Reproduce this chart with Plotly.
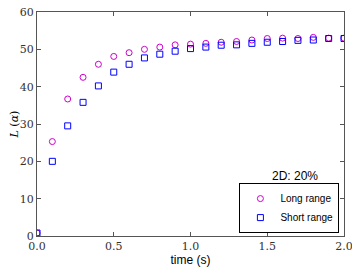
import plotly.graph_objects as go

time_s = [0.0, 0.1, 0.2, 0.3, 0.4, 0.5, 0.6, 0.7, 0.8, 0.9, 1.0,
          1.1, 1.2, 1.3, 1.4, 1.5, 1.6, 1.7, 1.8, 1.9, 2.0]
long_range = [0.8, 25.3, 36.7, 42.5, 46.0, 48.1, 49.1, 50.0, 50.6, 51.2, 51.4,
              51.6, 51.9, 52.1, 52.5, 52.9, 53.0, 52.9, 53.2, 53.0, 53.0]
short_range = [0.8, 20.0, 29.5, 35.8, 40.2, 43.9, 46.0, 47.7, 48.7, 49.5, 50.2,
               50.6, 51.1, 51.2, 51.6, 51.9, 52.1, 52.4, 52.5, 52.9, 52.9]
x_ticks = [0.0, 0.5, 1.0, 1.5, 2.0]
x_tick_text = ["0.0", "0.5", "1.0", "1.5", "2.0"]
y_ticks = [0, 10, 20, 30, 40, 50, 60]

fig = go.Figure()
fig.add_trace(go.Scatter(
    x=time_s, y=long_range, mode="markers", name="Long range",
    marker=dict(symbol="circle-open", size=6, color="#CC00CC", line=dict(width=1, color="#CC00CC")),
))
fig.add_trace(go.Scatter(
    x=time_s, y=short_range, mode="markers", name="Short range",
    marker=dict(symbol="square-open", size=6, color="#0000FF", line=dict(width=1, color="#0000FF")),
))

axis_common = dict(
    showline=True, linecolor="#555555", linewidth=1, mirror="ticks",
    ticks="inside", ticklen=4, tickcolor="#555555", showgrid=False, zeroline=False,
    automargin=False, ticklabeloverflow="allow",
    tickfont=dict(family="DejaVu Serif", size=11, color="#333333"),
)
fig.update_xaxes(range=[0, 2.0], tickvals=x_ticks, ticktext=x_tick_text,
                 title=dict(text="time (s)", font=dict(family="Liberation Sans", size=12, color="black"), standoff=1),
                 **axis_common)
fig.update_yaxes(range=[0, 60], tickvals=y_ticks,
                 title=dict(text="<i>L</i> (<i>α</i>)", font=dict(family="DejaVu Serif", size=11, color="black"), standoff=0),
                 **axis_common)

fig.add_annotation(x=0.84, y=0.268, xref="paper", yref="paper", text="2D: 20%",
                   xanchor="center", yanchor="middle", showarrow=False,
                   font=dict(family="Liberation Sans", size=12, color="black"))

fig.update_layout(
    width=352, height=262,
    margin=dict(l=29, r=16, t=4, b=34),
    plot_bgcolor="white", paper_bgcolor="white",
    showlegend=True,
    legend=dict(x=0.985, y=0.013, xanchor="right", yanchor="bottom",
                bordercolor="black", borderwidth=1, bgcolor="white",
                font=dict(family="Liberation Sans", size=10, color="black"),
                itemwidth=30, tracegroupgap=0),
)

fig.write_html("out.html")
